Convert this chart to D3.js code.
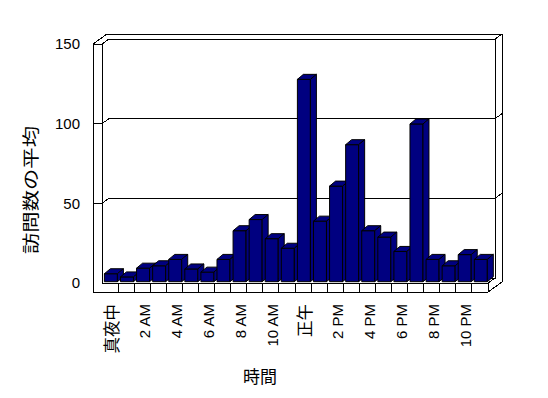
<!DOCTYPE html>
<html><head><meta charset="utf-8">
<script src="https://cdn.jsdelivr.net/npm/d3@7"></script>
<style>body{margin:0;background:#fff} svg{display:block}</style>
</head><body>
<svg id="c" width="548" height="398"></svg>
<script>
const categories = ["真夜中","1 AM","2 AM","3 AM","4 AM","5 AM","6 AM","7 AM","8 AM","9 AM","10 AM","11 AM",
  "正午","1 PM","2 PM","3 PM","4 PM","5 PM","6 PM","7 PM","8 PM","9 PM","10 PM","11 PM"];
const values = [5,3,8.5,10,14,8,6,14,32,39,27,21,127,38,60,86,32,28,19,99,14,10,17,14];
const xTickLabels = ["真夜中","2 AM","4 AM","6 AM","8 AM","10 AM","正午","2 PM","4 PM","6 PM","8 PM","10 PM"];
const yTicks = [0,50,100,150];
const yTitle = "訪問数の平均";
const xTitle = "時間";

const svg = d3.select("#c");
const FONT = "'Liberation Sans','Noto Sans CJK JP',sans-serif";
const x0 = 102, x1 = 488, yBase = 283, yTop = 44;
const dx = 7, dy = -5;           // depth projection
const wallT = 9, floorT = 9;     // wall / floor thickness

const x = d3.scaleBand().domain(categories).range([x0, x1]).paddingInner(0).paddingOuter(0);
const y = d3.scaleLinear().domain([0, 150]).range([yBase, yTop]);

const g = svg.append("g").attr("fill", "none").attr("stroke", "#000").attr("stroke-width", 1)
  .attr("shape-rendering", "crispEdges");
const line = (pts) => g.append("path").attr("d", d3.line()(pts));

const xl = x0 - wallT;           // left wall outer edge
const yb = yBase + floorT;       // floor bottom
g.append("path").attr("fill", "#fff").attr("d", d3.line()([
  [xl, y(150)], [xl + 2*dx, y(150) + 2*dy], [x1 + 2*dx, y(150) + 2*dy], [x1 + 2*dx, yb + 2*dy], [x1, yb], [xl, yb]
]) + "Z");
line([[x0 + dx, y(150) + dy], [x1 + dx, y(150) + dy], [x1 + dx, yBase + dy], [x0 + dx, yBase + dy]]);
line([[xl, y(150)], [xl + 2*dx, y(150) + 2*dy], [x1 + 2*dx, y(150) + 2*dy], [x1 + 2*dx, yb + 2*dy], [x1, yb]]);
line([[x1 + dx, y(150) + dy], [x1 + 2*dx, y(150) + 2*dy]]);
line([[xl, y(150)], [x0, y(150)], [x0 + dx, y(150) + dy]]);
line([[xl, y(150)], [xl, yb]]);
line([[x0, y(150)], [x0, yBase]]);
[50, 100].forEach(v => {
  line([[xl, y(v)], [x0, y(v)], [x0 + dx, y(v) + dy], [x1 + dx, y(v) + dy], [x1 + 2*dx, y(v) + 2*dy]]);
});
line([[x0, yBase], [x1, yBase], [x1 + dx, yBase + dy]]);
line([[xl, yb], [x1, yb]]);
line([[x1, yBase], [x1, yb]]);
categories.slice(1).forEach(c => line([[x(c), yBase], [x(c), yb]]));

// bars
const bw = 13, bOff = 2.4, bz = -1.3, bdx = 6, bdy = -5;
const bars = svg.append("g").attr("stroke", "#000").attr("stroke-width", 1).attr("fill", "#000080");
categories.forEach((c, i) => {
  const L = x(c) + bOff, R = L + bw, B = y(0) + bz, T = y(values[i]) + bz;
  const gb = bars.append("g");
  gb.append("path").attr("d", d3.line()([[L, B], [L, T], [R, T], [R, B]]) + "Z");
  gb.append("path").attr("d", d3.line()([[L, T], [L + bdx, T + bdy], [R + bdx, T + bdy], [R, T]]) + "Z");
  gb.append("path").attr("d", d3.line()([[R, T], [R + bdx, T + bdy], [R + bdx, B + bdy], [R, B]]) + "Z");
});

// y axis labels
const ya = svg.append("g").attr("transform", `translate(${xl},0)`)
  .call(d3.axisLeft(y).tickValues(yTicks).tickSize(0).tickPadding(13).tickFormat(d3.format("d")));
ya.select(".domain").remove();
ya.selectAll("text").attr("font-family", FONT).attr("font-size", 15).attr("fill", "#000");

// x axis labels
const evenCats = categories.filter((c, i) => i % 2 === 0);
const xa = svg.append("g").attr("transform", `translate(2,304)`)
  .call(d3.axisBottom(x).tickValues(evenCats).tickSize(0).tickFormat((d, i) => xTickLabels[i]));
xa.select(".domain").remove();
xa.selectAll("text").attr("y", 0).attr("dy", null)
  .attr("transform", "rotate(-90)").attr("text-anchor", "end").attr("dominant-baseline", "central")
  .attr("font-family", FONT).attr("font-size", 15).attr("fill", "#000")
  .each(function(d, i) { if (/[^\x00-\x7F]/.test(xTickLabels[i])) d3.select(this).attr("font-size", 16.5); });

// titles
svg.append("text").attr("x", 260).attr("y", 377).attr("text-anchor", "middle").attr("dominant-baseline", "central")
  .attr("font-family", FONT).attr("font-size", 17).text(xTitle);
svg.append("text").attr("transform", "translate(31,190) rotate(-90)").attr("text-anchor", "middle")
  .attr("dominant-baseline", "central").attr("font-family", FONT).attr("font-size", 17)
  .attr("textLength", 128).attr("lengthAdjust", "spacingAndGlyphs").text(yTitle);
</script>
</body></html>
